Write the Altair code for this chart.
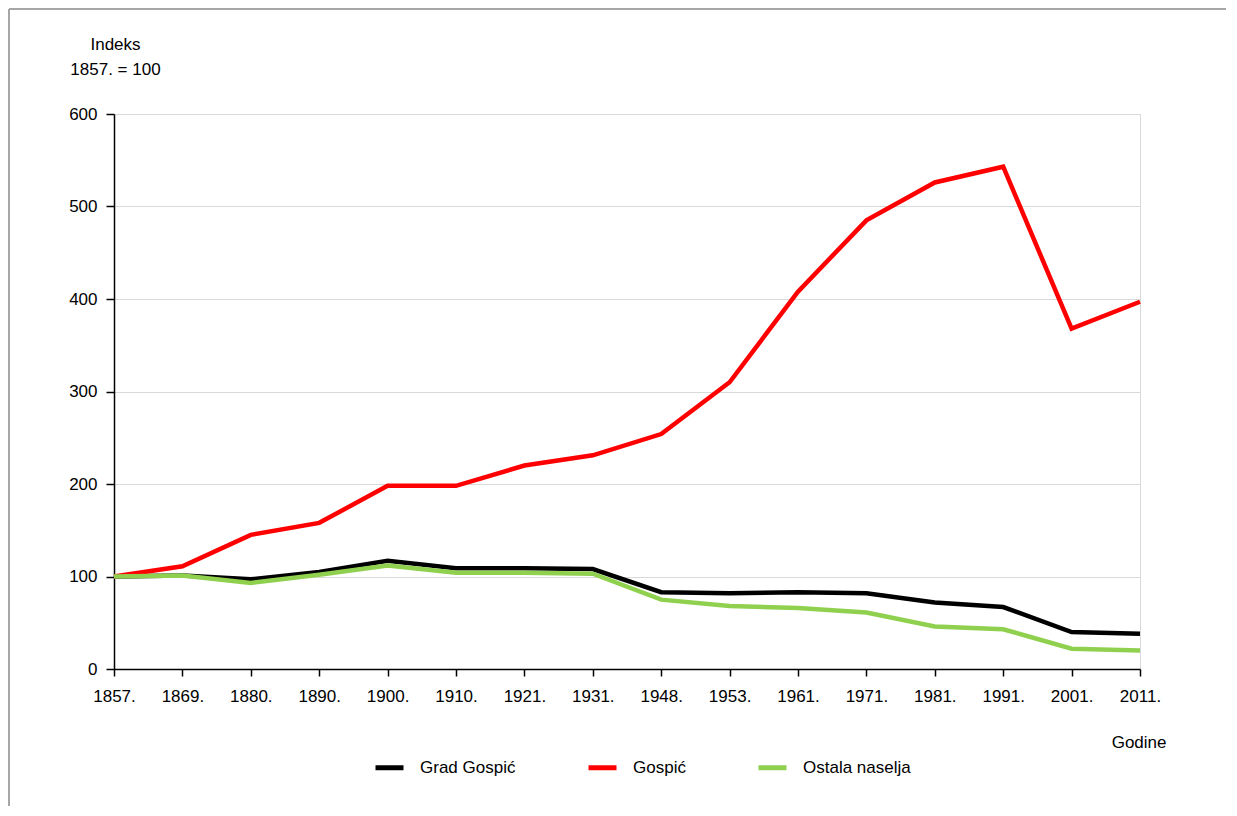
import altair as alt
import pandas as pd

godine = ["1857.", "1869.", "1880.", "1890.", "1900.", "1910.", "1921.", "1931.",
          "1948.", "1953.", "1961.", "1971.", "1981.", "1991.", "2001.", "2011."]
grad_gospic = [100, 101, 97, 105, 117, 109, 109, 108, 83, 82, 83, 82, 72, 67, 40, 38]
gospic = [100, 111, 145, 158, 198, 198, 220, 231, 254, 310, 408, 485, 526, 543, 368, 397]
ostala_naselja = [100, 101, 93, 102, 112, 104, 104, 103, 75, 68, 66, 61, 46, 43, 22, 20]

serije = ["Grad Gospić", "Gospić", "Ostala naselja"]
boje = ["#000000", "#ff0000", "#8fd14f"]

rows = []
for name, vals in zip(serije, [grad_gospic, gospic, ostala_naselja]):
    for g, v in zip(godine, vals):
        rows.append({"Godina": g, "Indeks": v, "Serija": name})
df = pd.DataFrame(rows)

FONT = "Liberation Sans"
FS = 17

lines = alt.Chart(df).mark_line(strokeWidth=4.5, strokeJoin="miter").encode(
    x=alt.X("Godina:N", sort=godine,
            scale=alt.Scale(type="point", padding=0),
            axis=alt.Axis(title="Godine", labelAngle=0, labelOverlap=False,
                          tickSize=7, labelPadding=12, domainColor="#000000",
                          tickColor="#000000", domainWidth=1.5, tickWidth=1.5,
                          titleAnchor="end", titleAlign="right", titleX=1052,
                          titleY=73, titleBaseline="middle", titleFontWeight="normal",
                          grid=False)),
    y=alt.Y("Indeks:Q", scale=alt.Scale(domain=[0, 600], nice=False),
            axis=alt.Axis(values=[0, 100, 200, 300, 400, 500, 600],
                          title=["Indeks", "1857. = 100"], titleAngle=0,
                          titleAlign="center", titleBaseline="top",
                          titleX=1, titleY=-78, titleLineHeight=25,
                          titleFontWeight="normal",
                          tickSize=8, labelPadding=9, domainColor="#000000",
                          tickColor="#000000", domainWidth=1.5, tickWidth=1.5,
                          gridColor="#d9d9d9", gridWidth=1)),
    color=alt.Color("Serija:N", sort=serije,
                    scale=alt.Scale(domain=serije, range=boje),
                    legend=alt.Legend(title=None, orient="none", direction="horizontal",
                                      legendX=259, legendY=637,
                                      symbolType="stroke", symbolStrokeWidth=5,
                                      symbolSize=784, labelOffset=14,
                                      columnPadding=62, labelFontSize=FS,
                                      labelFont=FONT, labelColor="#000000")),
    order=alt.value(0),
)

frame = pd.DataFrame({"k": [0]})
left_rule = alt.Chart(frame).mark_rule(color="#a6a6a6", strokeWidth=2).encode(
    x=alt.value(-105), y=alt.value(-105), y2=alt.value(692))
top_rule = alt.Chart(frame).mark_rule(color="#a6a6a6", strokeWidth=2).encode(
    x=alt.value(-105), x2=alt.value(1112), y=alt.value(-105))

chart = alt.layer(left_rule, top_rule, lines).properties(
    width=1026, height=555, padding=0
).configure_view(stroke="#d9d9d9", strokeWidth=1).configure_axis(
    labelFont=FONT, titleFont=FONT, labelFontSize=FS, titleFontSize=FS,
    labelColor="#000000", titleColor="#000000"
)

chart.save("out.html", embed_options={"renderer": "svg", "actions": False})
